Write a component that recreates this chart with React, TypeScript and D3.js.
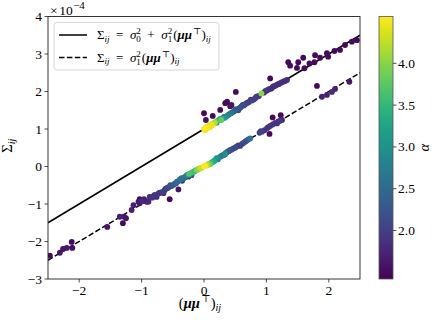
import React from "react";
import * as d3 from "d3";

// Diagonal entries (upper band, near y = 1 + x)
const diagX = [0.0,0.03,0.06,0.09,0.12,0.02,0.05,0.10,0.15,0.18,0.22,0.28,0.28,0.33,0.38,0.43,0.20,0.35,0.45,0.48,0.52,0.55,0.56,0.60,0.64,0.68,0.72,0.77,0.82,0.86,0.92,0.96,1.00,1.05,1.10,1.15,1.20,1.25,1.30,1.33,
  0.50,0.58,0.62,0.66,0.70,0.75,0.80,0.84,0.88,0.98,1.02,1.08,1.12,1.18,1.22,1.28,0.25,0.30,0.40,0.32,0.17,0.13,0.07,
  0.00,0.14,0.03,0.26,0.34,0.37,0.42,0.51,0.44,1.06,1.35,1.38,1.49,1.51,1.59,1.61,1.69,1.77,1.78,1.86,1.97,1.99,2.09,2.18,2.26,2.37,2.45];
const diagY = [1.00,1.04,1.07,1.10,1.13,0.97,1.02,1.06,1.15,1.18,1.22,1.24,1.27,1.30,1.36,1.42,1.17,1.33,1.44,1.47,1.52,1.50,1.55,1.60,1.63,1.69,1.72,1.76,1.82,1.87,1.95,1.97,2.02,2.07,2.12,2.16,2.20,2.25,2.28,2.31,
  1.52,1.57,1.64,1.66,1.70,1.78,1.79,1.86,1.88,2.01,2.04,2.08,2.14,2.19,2.22,2.27,1.26,1.28,1.39,1.32,1.16,1.10,1.04,
  1.42,1.35,1.24,1.51,1.69,1.73,1.61,1.99,1.64,2.35,2.78,2.69,2.63,2.78,2.90,2.62,2.75,2.78,2.97,2.90,3.02,2.93,3.08,3.11,3.24,3.33,3.37];
const diagAlpha = [4.55,4.50,4.45,4.40,4.35,4.50,4.52,4.30,4.10,3.90,3.60,3.80,3.30,3.10,2.90,2.70,2.60,2.50,2.20,2.40,2.30,2.10,2.20,2.20,2.10,2.00,2.00,2.00,1.90,2.00,4.00,1.90,1.90,1.85,1.85,1.85,1.85,1.85,1.85,1.80,
  2.2,2.1,2.0,2.1,1.95,1.9,2.0,1.9,1.95,1.85,1.85,1.8,1.8,1.8,1.8,1.8,3.4,2.8,2.6,2.3,4.2,4.45,4.5,
  1.5,1.5,1.55,1.5,1.5,1.5,1.5,1.5,1.6,1.5,1.5,1.5,1.5,1.5,1.5,1.5,1.5,1.5,1.5,1.5,1.5,1.5,1.5,1.5,1.5,1.5,1.5];

// Off-diagonal entries (lower band, near y = x)
const offX = [-2.47,-2.31,-2.26,-2.20,-2.11,-2.12,-1.55,-1.35,-1.28,-1.30,-1.25,-1.16,-1.13,-1.05,-1.03,-1.03,-0.96,-0.92,-0.89,-0.87,-0.83,-0.79,-0.76,-0.71,-0.67,-0.65,-0.63,-0.60,-0.55,-0.57,-0.52,-0.49,-0.45,-0.44,-0.41,-0.39,-0.35,-0.36,-0.32,-0.30,-0.28,-0.25,-0.24,-0.20,-0.20,-0.16,-0.12,-0.08,-0.04,0.00,0.04,0.07,0.10,0.14,0.17,0.20,0.23,0.26,0.30,0.34,0.34,0.38,0.42,0.47,0.52,0.58,0.63,0.68,0.74,0.89,0.93,1.01,1.05,1.06,1.10,1.17,1.22,1.10,1.23,1.25,1.81,1.89,1.97,2.05,2.10,2.33,
  -0.62,-0.58,-0.54,-0.47,-0.42,-0.38,-0.33,-0.26,-0.22,-0.18,-0.14,-0.10,-0.06,0.02,0.06,0.12,0.16,0.22,0.28,0.32,0.36,0.40,0.44,0.50,0.55,0.61,0.66,0.71,0.91,0.97,1.03,1.14,1.19,-0.73,-0.81,-0.99];
const offY = [-2.38,-2.30,-2.20,-2.17,-2.17,-2.01,-1.61,-1.34,-1.34,-1.51,-1.38,-1.16,-1.03,-0.94,-0.87,-0.98,-0.87,-0.94,-0.94,-0.81,-0.83,-0.76,-0.81,-0.70,-0.68,-0.71,-0.63,-0.58,-0.87,-0.55,-0.52,-0.49,-0.45,-0.41,-0.61,-0.36,-0.38,-0.31,-0.30,-0.28,-0.24,-0.27,-0.20,-0.23,-0.17,-0.13,-0.09,-0.06,-0.03,0.01,0.03,0.06,0.07,0.12,0.16,0.22,0.22,0.26,0.30,0.33,0.35,0.40,0.44,0.48,0.53,0.55,0.63,0.69,0.75,0.90,0.93,1.02,0.87,1.08,1.12,1.15,1.22,1.31,1.37,1.24,2.15,1.86,1.91,1.99,2.07,2.26,
  -0.60,-0.57,-0.50,-0.46,-0.40,-0.34,-0.32,-0.22,-0.19,-0.15,-0.11,-0.08,-0.04,0.02,0.04,0.10,0.14,0.19,0.28,0.31,0.37,0.41,0.45,0.50,0.56,0.60,0.66,0.72,0.94,0.97,1.05,1.16,1.20,-0.72,-0.79,-0.92];
const offAlpha = [1.5,1.6,1.6,1.6,1.55,1.5,1.6,1.7,1.6,1.5,1.6,1.7,1.7,1.6,1.5,1.6,1.7,1.7,1.8,1.8,1.9,1.9,1.8,1.9,2.0,1.9,2.0,1.9,1.5,2.1,2.1,2.3,2.0,2.5,1.6,2.4,1.9,2.6,2.3,2.1,2.8,2.0,3.7,2.2,3.0,3.3,3.9,3.5,4.2,4.56,4.3,3.9,3.8,3.2,3.0,3.1,2.9,2.6,2.4,3.0,2.8,2.3,2.2,2.1,2.0,2.0,2.1,2.2,2.6,2.0,2.0,1.9,1.5,1.9,1.9,1.8,1.9,1.5,1.5,1.7,1.5,1.7,1.7,1.8,1.7,1.6,
  2.0,2.1,2.2,2.4,2.3,2.6,2.5,2.9,3.2,3.6,3.5,4.0,4.3,4.5,4.1,3.5,3.3,2.8,2.7,2.3,2.2,2.1,2.0,2.1,2.0,2.0,2.0,2.3,2.0,1.9,1.9,1.9,1.9,1.9,1.8,1.8];

const xTicks = [-2, -1, 0, 1, 2];
const yTicks = [-3, -2, -1, 0, 1, 2, 3, 4];
const cTicks = [2.0, 2.5, 3.0, 3.5, 4.0];
const alphaDomain = [1.42, 4.56];
const sigma0sq = 1;
const sigma1sq = 1;

const FONT = "'Liberation Serif', 'DejaVu Serif', serif";
const fmt = (v: number) => (v < 0 ? "\u2212" + Math.abs(v) : String(v));

export default function App() {
  const W = 436, H = 324;
  const L = 48, R = 360, T = 16.5, B = 279;
  const x = d3.scaleLinear().domain([-2.5, 2.5]).range([L, R]);
  const y = d3.scaleLinear().domain([-3, 4]).range([B, T]);
  const c = d3.scaleSequential(d3.interpolateViridis).domain(alphaDomain as [number, number]);
  const cy = d3.scaleLinear().domain(alphaDomain).range([B, T]);

  const pts = [
    ...diagX.map((v, i) => ({ x: v, y: diagY[i], a: diagAlpha[i] })),
    ...offX.map((v, i) => ({ x: v, y: offY[i], a: offAlpha[i] })),
  ].sort((p, q) => p.a - q.a);

  const xs = [-2.5, 2.5];
  const solid = d3.line<number>().x((d) => x(d)).y((d) => y(sigma0sq + sigma1sq * d))(xs) as string;
  const dashed = d3.line<number>().x((d) => x(d)).y((d) => y(sigma1sq * d))(xs) as string;

  const stops = d3.range(0, 1.0001, 0.05);
  const CBL = 379, CBR = 393;

  const sub = 9;
  const sp = "\u2002";
  return (
    <svg width={W} height={H} fontFamily={FONT} style={{ position: "absolute", left: 0, top: 0, background: "#fff" }}>
      <defs>
        <linearGradient id="vir" x1="0" y1="1" x2="0" y2="0">
          {stops.map((s) => (
            <stop key={s} offset={s} stopColor={d3.interpolateViridis(s)} />
          ))}
        </linearGradient>
        <clipPath id="plotclip">
          <rect x={L} y={T} width={R - L} height={B - T} />
        </clipPath>
      </defs>

      <g clipPath="url(#plotclip)">
        <path d={solid} stroke="#000" strokeWidth={1.5} fill="none" />
        <path d={dashed} stroke="#000" strokeWidth={1.5} fill="none" strokeDasharray="5.5,2.4" />
        {pts.map((p, i) => (
          <circle key={i} cx={x(p.x)} cy={y(p.y)} r={2.9} fill={c(p.a)} />
        ))}
      </g>

      <rect x={L} y={T} width={R - L} height={B - T} fill="none" stroke="#222" strokeWidth={0.9} />

      <g fontFamily={FONT}>
        {xTicks.map((t) => (
          <g key={t}>
            <line x1={x(t)} x2={x(t)} y1={B} y2={B + 3.5} stroke="#222" strokeWidth={0.8} />
            <text x={x(t)} y={B + 16} fontSize={13.5} textAnchor="middle">{fmt(t)}</text>
          </g>
        ))}
        {yTicks.map((t) => (
          <g key={t}>
            <line x1={L - 3.5} x2={L} y1={y(t)} y2={y(t)} stroke="#222" strokeWidth={0.8} />
            <text x={L - 6} y={y(t) + 4.5} fontSize={13.5} textAnchor="end">{fmt(t)}</text>
          </g>
        ))}

        <text x={50} y={14.5} fontSize={13.5}>
          <tspan>×</tspan>
          <tspan dx={1.5}>10</tspan>
          <tspan fontSize={11} dy={-6} dx={0.5}>−4</tspan>
        </text>

        <text transform={`translate(11.5,${(T + B) / 2 - 2}) rotate(-90)`} fontSize={14.5} textAnchor="middle">
          <tspan>Σ</tspan>
          <tspan fontStyle="italic" fontSize={10} dy={3}>ij</tspan>
        </text>

        <text x={200} y={308} fontSize={14.5} textAnchor="middle">
          <tspan>(</tspan>
          <tspan fontStyle="italic" fontWeight="bold">μμ</tspan>
          <tspan fontSize={10} dx={1.5} dy={-6}>⊤</tspan>
          <tspan dy={6}>)</tspan>
          <tspan fontStyle="italic" fontSize={10} dy={3}>ij</tspan>
        </text>

        {/* legend */}
        <rect x={54} y={22.5} width={165} height={47.5} rx={3} fill="#fff" fillOpacity={0.8} stroke="#ccc" strokeWidth={0.8} />
        <line x1={59} x2={87} y1={35} y2={35} stroke="#000" strokeWidth={1.5} />
        <line x1={59} x2={87} y1={57.5} y2={57.5} stroke="#000" strokeWidth={1.5} strokeDasharray="5.5,2.4" />
        {[0, 1].map((k) => (
          <text key={k} x={97} y={k === 0 ? 39 : 61.5} fontSize={13}>
            <tspan>Σ</tspan>
            <tspan fontStyle="italic" fontSize={sub} dy={2.5}>ij</tspan>
            <tspan dy={-2.5}>{sp}={sp}</tspan>
            {k === 0 ? (
              <>
                <tspan fontStyle="italic">σ</tspan>
                <tspan fontSize={sub} dy={-5}>2</tspan>
                <tspan fontSize={sub} dx={-4.5} dy={8}>0</tspan>
                <tspan dy={-3}>{sp}+{sp}</tspan>
              </>
            ) : null}
            <tspan fontStyle="italic">σ</tspan>
            <tspan fontSize={sub} dy={-5}>2</tspan>
            <tspan fontSize={sub} dx={-4.5} dy={8}>1</tspan>
            <tspan dx={1} dy={-3}>(</tspan>
            <tspan fontStyle="italic" fontWeight="bold">μμ</tspan>
            <tspan fontSize={sub} dx={1} dy={-5}>⊤</tspan>
            <tspan dy={5}>)</tspan>
            <tspan fontStyle="italic" fontSize={sub} dy={2.5}>ij</tspan>
          </text>
        ))}

        {/* colorbar */}
        <rect x={CBL} y={T} width={CBR - CBL} height={B - T} fill="url(#vir)" stroke="#555" strokeWidth={0.8} />
        {cTicks.map((t) => (
          <g key={t}>
            <line x1={CBR} x2={CBR + 3.5} y1={cy(t)} y2={cy(t)} stroke="#222" strokeWidth={0.8} />
            <text x={CBR + 5} y={cy(t) + 4.5} fontSize={13.5}>{t.toFixed(1)}</text>
          </g>
        ))}
        <text transform={`translate(429,${(T + B) / 2}) rotate(-90)`} fontSize={14.5} fontStyle="italic" textAnchor="middle">α</text>
      </g>
    </svg>
  );
}
